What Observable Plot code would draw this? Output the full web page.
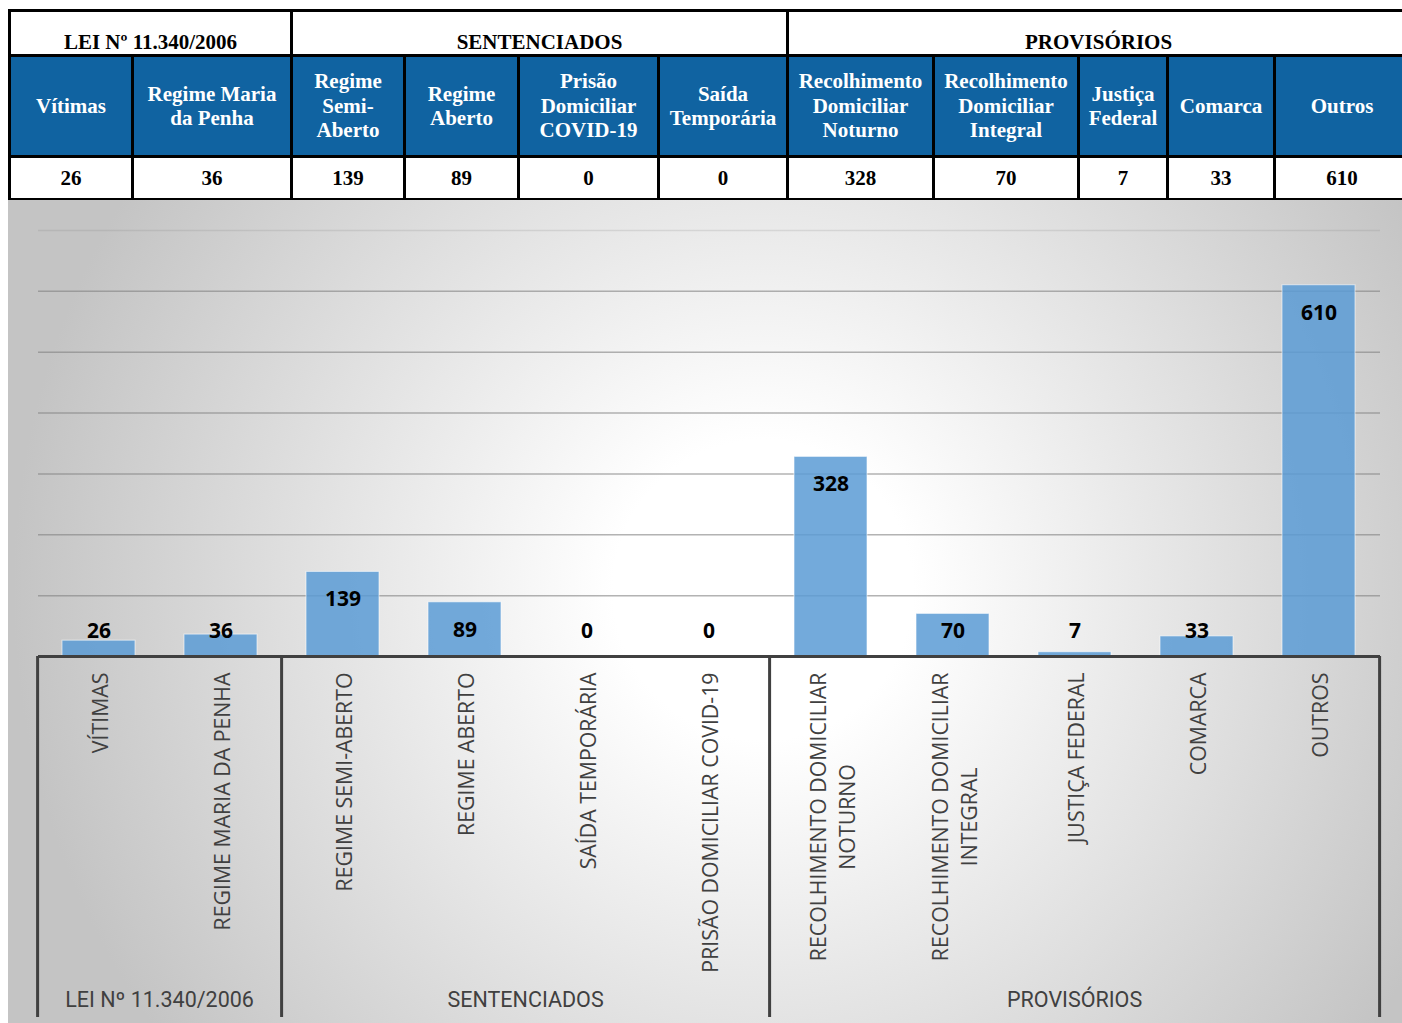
<!DOCTYPE html>
<html>
<head>
<meta charset="utf-8">
<script src="https://cdn.jsdelivr.net/npm/d3@7"></script>
<script src="https://cdn.jsdelivr.net/npm/@observablehq/plot@0.6"></script>
<style>
  html, body { margin: 0; padding: 0; background: #ffffff; }
  body { width: 1402px; height: 1023px; overflow: hidden; position: relative; }
  #table-wrap { position: absolute; left: 8px; top: 9px; }
  table { border-collapse: collapse; table-layout: fixed; width: 1400px;
          font-family: "Liberation Serif", "Times New Roman", serif; font-weight: bold; font-size: 21px; }
  td { border: 3px solid #000; text-align: center; padding: 0; }
  tr.groups td { height: 41px; vertical-align: bottom; background: #fff; color: #000; line-height: 22px; padding-bottom: 1px; }
  tr.heads td { height: 98px; background: #1063a1; color: #fff; line-height: 24.5px; white-space: pre-line; vertical-align: middle; }
  tr.vals td { height: 40px; background: #fff; color: #000; vertical-align: middle; }
  #chart { position: absolute; left: 8px; top: 200px; }
</style>
</head>
<body>
<div id="table-wrap"></div>
<div id="chart"></div>
<script>
// ---- data ----
const groups = ["LEI Nº 11.340/2006", "SENTENCIADOS", "PROVISÓRIOS"];
const groupSizes = [2, 4, 5];

const tableHeaders = ["Vítimas", "Regime Maria\nda Penha", "Regime\nSemi-\nAberto", "Regime\nAberto",
  "Prisão\nDomiciliar\nCOVID-19", "Saída\nTemporária", "Recolhimento\nDomiciliar\nNoturno",
  "Recolhimento\nDomiciliar\nIntegral", "Justiça\nFederal", "Comarca", "Outros"];
const tableValues = [26, 36, 139, 89, 0, 0, 328, 70, 7, 33, 610];

const categories = ["VÍTIMAS", "REGIME MARIA DA PENHA", "REGIME SEMI-ABERTO", "REGIME ABERTO",
  "SAÍDA TEMPORÁRIA", "PRISÃO DOMICILIAR COVID-19", "RECOLHIMENTO DOMICILIAR\nNOTURNO",
  "RECOLHIMENTO DOMICILIAR\nINTEGRAL", "JUSTIÇA FEDERAL", "COMARCA", "OUTROS"];
const values = [26, 36, 139, 89, 0, 0, 328, 70, 7, 33, 610];
const yTicks = [100, 200, 300, 400, 500, 600];
const yTop = 700;

const colWidths = [123, 159, 113, 114, 140, 129, 146, 145, 89, 107, 135];

// ---- table ----
const table = document.createElement("table");
const cg = document.createElement("colgroup");
colWidths.forEach(w => { const c = document.createElement("col"); c.style.width = w + "px"; cg.appendChild(c); });
table.appendChild(cg);
const trG = document.createElement("tr"); trG.className = "groups";
groups.forEach((g, i) => { const td = document.createElement("td"); td.colSpan = groupSizes[i]; td.textContent = g; trG.appendChild(td); });
const trH = document.createElement("tr"); trH.className = "heads";
tableHeaders.forEach(h => { const td = document.createElement("td"); td.textContent = h; trH.appendChild(td); });
const trV = document.createElement("tr"); trV.className = "vals";
tableValues.forEach(v => { const td = document.createElement("td"); td.textContent = v; trV.appendChild(td); });
table.append(trG, trH, trV);
document.getElementById("table-wrap").appendChild(table);

// ---- chart ----
const data = categories.map((c, i) => ({category: c, value: values[i]}));
const paddingInner = 0.4;

function groupMark(index, scales, vals, dimensions) {
  const x = scales.x;
  const step = x(categories[1]) - x(categories[0]);
  const y0 = scales.y(0);
  const bottom = dimensions.height - 6;
  const edges = [];
  let k = 0;
  edges.push(x(categories[0]) - step * paddingInner / 2);
  groupSizes.forEach(n => {
    k += n;
    edges.push(k < categories.length
      ? x(categories[k]) - step * paddingInner / 2
      : x(categories[k - 1]) + step * (1 - paddingInner / 2));
  });
  const g = d3.create("svg:g");
  edges.forEach(e => {
    g.append("line").attr("x1", e).attr("x2", e).attr("y1", y0).attr("y2", bottom)
      .attr("stroke", "#404040").attr("stroke-width", 3);
  });
  groups.forEach((name, i) => {
    g.append("text").attr("x", (edges[i] + edges[i + 1]) / 2).attr("y", dimensions.height - 22)
      .attr("text-anchor", "middle").attr("dominant-baseline", "middle")
      .attr("font-family", "Roboto, sans-serif").attr("font-size", 21.5).attr("fill", "#404040")
      .text(name);
  });
  return g.node();
}

const plot = Plot.plot({
  width: 1394,
  height: 823,
  marginTop: 30,
  marginBottom: 367,
  marginLeft: 30,
  marginRight: 22,
  x: {domain: categories, paddingInner: paddingInner, paddingOuter: paddingInner / 2, axis: null},
  y: {domain: [0, yTop], axis: null},
  style: {fontFamily: "'Open Sans', sans-serif", overflow: "visible"},
  marks: [
    Plot.ruleY(yTicks, {stroke: "#808080", strokeOpacity: 0.6, strokeWidth: 1.5}),
    Plot.ruleY([yTop], {stroke: "#808080", strokeOpacity: 0.2, strokeWidth: 1.5}),
    Plot.barY(data, {x: "category", y: "value", fill: "#5b9bd5", fillOpacity: 0.85,
      stroke: "#ffffff", strokeOpacity: 0.6, strokeWidth: 1}),
    Plot.ruleY([0], {stroke: "#404040", strokeWidth: 3}),
    Plot.text(data, {x: "category", y: d => Math.max(d.value - 44, 42.5), text: d => String(d.value),
      dy: 1, fontWeight: "bold", fontSize: 21, fill: "#000000"}),
    Plot.text(data, {x: "category", text: "category", frameAnchor: "bottom", dy: 16, rotate: -90,
      textAnchor: "end", lineAnchor: "middle", lineHeight: 1.38, fontSize: 21.3, fill: "#404040"}),
    groupMark
  ]
});
plot.style.background = "radial-gradient(circle 750px at 755px 390px, #ffffff 0px, #ffffff 150px, #c4c4c4 750px)";
document.getElementById("chart").appendChild(plot);

// center the second line of two-line rotated labels under the first (block anchored at top)
plot.querySelectorAll("text").forEach(t => {
  const spans = t.querySelectorAll("tspan");
  const tr = t.getAttribute("transform") || "";
  if (spans.length >= 2 && tr.includes("rotate")) {
    const L1 = spans[0].getComputedTextLength();
    const L2 = spans[1].getComputedTextLength();
    spans[1].setAttribute("x", (L2 - L1) / 2);
  }
});
</script>
</body>
</html>
